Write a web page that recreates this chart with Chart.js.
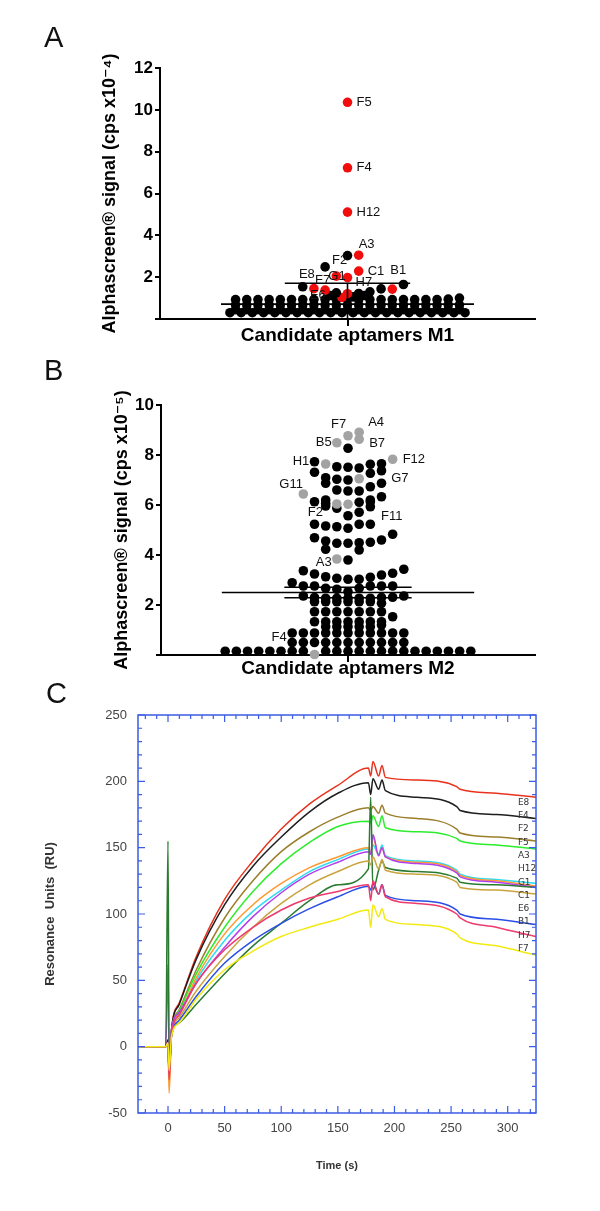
<!DOCTYPE html>
<html>
<head>
<meta charset="utf-8">
<script src="https://cdn.jsdelivr.net/npm/chart.js@4.4.1/dist/chart.umd.min.js"></script>
<style>
  body { margin: 0; background: #fff; width: 600px; height: 1211px; position: relative; overflow: hidden; font-family: "Liberation Sans", Arial, sans-serif; }
  .panel { position: absolute; left: 0; width: 600px; }
  .letter { position: absolute; font-size: 29px; line-height: 29px; color: #111; z-index: 2; }
</style>
</head>
<body>
<div class="letter" style="left:44px;top:23px">A</div>
<div class="letter" style="left:44px;top:356px">B</div>
<div class="letter" style="left:46px;top:679px">C</div>
<div class="panel" style="top:0;height:350px"><canvas id="chartA"></canvas></div>
<div class="panel" style="top:330px;height:350px"><canvas id="chartB"></canvas></div>
<div class="panel" style="top:680px;height:531px"><canvas id="chartC"></canvas></div>
<script>
// ---- panel A : Alphascreen screen, candidate aptamers M1 (rows of the dot swarm, bottom to top, null = empty slot)
const m1Rows = [
  [0.3,0.3,0.3,0.3,0.3,0.3,0.3,0.3,0.3,0.3,0.3,0.3,0.3,0.3,0.3,0.3,0.3,0.3,0.3,0.3,0.3,0.3],
  [0.45,0.45,0.45,0.45,0.45,0.45,0.45,0.45,0.45,0.45,0.45,0.45,0.45,0.45,0.45,0.45,0.45,0.45,0.45,0.45,0.45],
  [0.68,0.68,0.68,0.68,0.68,0.68,0.68,0.68,0.68,0.68,0.68,0.68,0.68,0.68,0.68,0.68,0.68,0.68,0.68,0.68,0.68],
  [0.93,0.93,0.93,0.93,0.93,0.93,0.93,0.93,0.93,0.93,0.93,0.93,0.93,0.93,0.93,0.93,0.93,0.93,0.93,0.95,1.0],
  [1.12, 1.03, 1.06, 1.12],
  [null, 1.25, 1.21, 1.22, 1.3],
  [null, 1.54, 1.45, 1.38, null, null, null, null, 1.44, 1.43, 1.65],
  [2.05, 1.98, null],
  [2.49, null, null, 2.29, null],
  [null, 3.03, 3.05],
  [5.11],
  [7.23],
  [10.36]
];
const m1Hits = [10.36, 7.23, 5.11, 3.05, 2.29, 2.05, 1.98, 1.45, 1.38, 1.43, 1.03, 1.21];
const m1LabelNames = ['F5', 'F4', 'H12', 'A3', 'F2', 'C1', 'B1', 'G1', 'H7', 'E8', 'F7', 'E6'];
const m1LabelValues = [10.36, 7.23, 5.11, 3.05, 2.49, 2.29, 1.43, 2.05, 1.98, 1.45, 1.38, 1.03];
const m1Mean = 0.71, m1Sd = 1.0;

// ---- panel B : candidate aptamers M2
const m2Rows = [
  [0.15,0.15,0.15,0.15,0.15,0.15,0.15,0.15,0.02,0.15,0.15,0.15,0.15,0.15,0.15,0.15,0.15,0.15,0.15,0.15,0.15,0.15,0.15],
  [0.5,0.5,0.5,0.5,0.5,0.5,0.5,0.5,0.5,0.5,0.5],
  [0.88,0.88,0.88,0.88,0.88,0.88,0.88,0.88,0.88,0.88,0.88],
  [null, 1.13, 1.13, 1.13, 1.13, 1.13, 1.2],
  [null, 1.33, 1.33, 1.33, 1.33, 1.33, 1.33, 1.33, 1.53],
  [1.73, 1.73, 1.73, 1.73, 1.73, 1.73, 1.73],
  [2.13, 2.13, 2.13, 2.13, 2.13, 2.13, 2.07],
  [null, 2.36, 2.3, 2.27, 2.27, 2.27, 2.27, 2.27, 2.3, 2.31, 2.36],
  [2.89, 2.76, 2.76, 2.67, 2.63, 2.53, 2.67, 2.76, 2.76, 2.76, null],
  [null, 3.37, 3.24, 3.13, 3.07, 3.03, 3.03, 3.11, 3.2, 3.27, 3.43],
  [3.84, 3.8, null],
  [4.23, null, null, 4.2, null],
  [null, 4.69, 4.56, 4.47, 4.47, 4.49, 4.51, 4.6, 4.83],
  [5.23, 5.16, 5.13, 5.07, 5.23, 5.23, null],
  [5.96, 5.87, 5.57, 5.71, 5.93],
  [6.13, 6.07, 6.04, 6.03, 6.11, 6.13, 6.33],
  [6.2, null, null, null, 6.2],
  [6.44, null, null, null, null, null, null, null, null],
  [null, 6.87, 6.6, 6.56, 6.56, 6.73, 6.87],
  [7.09, 7.03, 7.0, 7.05, null],
  [7.31, null, null, null, null, 7.27, 7.37],
  [null, 7.73, 7.64, 7.53, 7.51, 7.48, 7.63, 7.65, 7.83],
  [8.27],
  [8.49, 8.77, 8.91],
  [null, null, 8.63]
];
const m2Hits = [8.91, 8.77, 8.63, 8.49, 7.83, 7.64, 7.05, 6.44, 6.04, 6.03, 3.84, 0.02];
const m2LabelNames = ['A4', 'F7', 'B7', 'B5', 'F12', 'H1', 'G7', 'G11', 'F2', 'F11', 'A3', 'F4'];
const m2LabelValues = [8.91, 8.77, 8.63, 8.49, 7.83, 7.64, 7.05, 6.44, 6.04, 6.03, 3.84, 0.02];
const m2Mean = 2.5, m2Sem = 0.21;

// ---- panel C : SPR sensorgrams
const spTime = [-26, -2, 0, 1, 3, 10, 25, 50, 75, 100, 125, 150, 177, 179, 181, 186, 189, 192, 220, 255, 258, 290, 325];
const spE8 = [0, 0, 5, -25, 12, 33, 68, 111, 140, 164, 183, 197, 210, 204, 215, 204, 212, 203, 201, 196, 194, 191, 188];
const spF4 = [0, 0, 5, -20, 12, 32, 66, 107, 136, 158, 177, 191, 199, 190, 202, 194, 201, 193, 188, 181, 178, 175, 172];
const spF2 = [0, 0, 3, -22, 10, 28, 58, 97, 125, 147, 162, 173, 180, 178, 181, 176, 182, 176, 172, 164, 161, 158, 155];
const spF5 = [0, 0, 3, -20, 10, 27, 55, 90, 117, 138, 154, 166, 170, 168, 174, 166, 174, 165, 162, 157, 155, 152, 149];
const spA3 = [0, 0, 2, -20, 9, 25, 50, 80, 102, 118, 132, 141, 149, 146, 152, 145, 152, 144, 140, 133, 130, 126, 123];
const spH12 = [0, 0, 2, -35, 8, 25, 52, 85, 107, 123, 135, 143, 150, 145, 158, 144, 150, 143, 139, 132, 129, 125, 121];
const spG1 = [0, 0, 62, -15, 12, 26, 48, 75, 98, 116, 130, 139, 147, 145, 160, 144, 150, 143, 138, 131, 128, 124, 120];
const spC1 = [0, 0, 155, -18, 8, 18, 32, 55, 76, 93, 110, 122, 134, 188, 118, 133, 140, 135, 132, 127, 124, 122, 120];
const spE6 = [0, 0, 2, -20, 8, 22, 42, 68, 90, 108, 122, 132, 140, 137, 143, 134, 141, 133, 130, 124, 120, 118, 115];
const spB1 = [0, 0, 3, -20, 7, 20, 38, 63, 80, 93, 104, 113, 121, 118, 123, 115, 122, 114, 110, 103, 100, 96, 92];
const spH7 = [0, 0, 3, -25, 8, 24, 48, 73, 90, 103, 112, 117, 122, 110, 125, 115, 122, 113, 108, 100, 97, 90, 83];
const spF7 = [0, 0, 3, -18, 7, 18, 36, 58, 72, 83, 90, 96, 103, 90, 107, 98, 104, 96, 92, 85, 82, 76, 69];
const spNames = ['E8', 'F4', 'F2', 'F5', 'A3', 'H12', 'G1', 'C1', 'E6', 'B1', 'H7', 'F7'];
const spSeries = [spE8, spF4, spF2, spF5, spA3, spH12, spG1, spC1, spE6, spB1, spH7, spF7];
const spColors = ['#e8321e', '#1e1e1e', '#9b7f2c', '#2ced2c', '#30dcef', '#ff9830', '#b040ee', '#2a7a30', '#c9a43e', '#2a4ee6', '#ee3a6c', '#f2ea12'];
const spXTicks = [0, 50, 100, 150, 200, 250, 300];
const spYTicks = [-50, 0, 50, 100, 150, 200, 250];

Chart.defaults.font.family = '"Liberation Sans", Arial, "DejaVu Sans", sans-serif';
Chart.defaults.color = '#000';

function swarmPoints(rows) {
  const pts = [];
  rows.forEach(function (row) {
    const n = row.length;
    row.forEach(function (v, i) {
      if (v === null) return;
      pts.push({ x: i - (n - 1) / 2, y: v });
    });
  });
  return pts;
}

function segment(x1, y1, x2, y2) {
  return {
    data: [{ x: x1, y: y1 }, { x: x2, y: y2 }],
    showLine: true, borderColor: '#000', borderWidth: 1.6, pointRadius: 0, order: 0
  };
}

// names next to the highlighted points
const pointLabels = {
  id: 'pointLabels',
  afterDatasetsDraw(chart, args, opts) {
    if (!opts.names) return;
    const ctx = chart.ctx;
    const meta = chart.getDatasetMeta(0);
    const data = chart.data.datasets[0].data;
    ctx.save();
    ctx.font = '13px "Liberation Sans", Arial, sans-serif';
    ctx.fillStyle = '#111';
    ctx.textBaseline = 'middle';
    opts.names.forEach(function (name, i) {
      const idx = data.findIndex(p => p.y === opts.values[i]);
      if (idx < 0) return;
      const el = meta.data[idx];
      const off = opts.offsets[name] || [8, 0];
      ctx.fillText(name, el.x + off[0], el.y + off[1]);
    });
    ctx.restore();
  }
};

function swarmChart(id, rows, hits, hitColor, names, values, offsets, lines, yTitle, xTitle, yMax, padLeft, padTop, padBottom, yWidth, xHeight) {
  const pts = swarmPoints(rows);
  return new Chart(document.getElementById(id), {
    type: 'scatter',
    data: {
      datasets: [{
        data: pts,
        backgroundColor: pts.map(p => hits.includes(p.y) ? hitColor : '#000'),
        borderWidth: 0,
        pointRadius: 4.8,
        clip: false,
        order: 1
      }].concat(lines)
    },
    options: {
      responsive: true,
      maintainAspectRatio: false,
      animation: false,
      layout: { padding: { left: padLeft, top: padTop, right: 65, bottom: padBottom } },
      plugins: {
        legend: { display: false },
        tooltip: { enabled: false },
        pointLabels: { names: names, values: values, offsets: offsets }
      },
      scales: {
        x: {
          type: 'linear', min: -16.75, max: 16.75,
          afterBuildTicks: s => { s.ticks = [{ value: 0 }]; },
          afterFit: s => { s.height = xHeight; },
          ticks: { callback: () => '' },
          grid: { drawOnChartArea: false, tickLength: 7, color: '#000', lineWidth: 2 },
          border: { color: '#000', width: 2 },
          title: { display: true, text: xTitle, font: { size: 19, weight: 'bold' }, color: '#000', padding: 0 }
        },
        y: {
          min: 0, max: yMax,
          afterFit: s => { s.width = yWidth; },
          ticks: { stepSize: 2, callback: v => v === 0 ? '' : v, font: { size: 17, weight: 'bold' }, color: '#000', padding: 2 },
          grid: { drawOnChartArea: false, tickLength: 5, color: '#000', lineWidth: 2 },
          border: { color: '#000', width: 2 },
          title: { display: true, text: yTitle, font: { size: 18, weight: 'bold' }, color: '#000', padding: 0 }
        }
      }
    },
    plugins: [pointLabels]
  });
}

swarmChart('chartA', m1Rows, m1Hits, '#f20d0d', m1LabelNames, m1LabelValues,
  { F5: [9, 0], F4: [9, 0], H12: [9, 0], A3: [0, -11], F2: [7, -6], C1: [9, 0], B1: [-2, -19],
    G1: [-8, 0], H7: [8, 5], E8: [-15, -14], F7: [-10, -10], E6: [-32, -2] },
  [segment(-11.3, m1Mean, 11.3, m1Mean),
   segment(-5.6, m1Mean + m1Sd, 5.6, m1Mean + m1Sd),
   segment(0, m1Mean - m1Sd, 0, m1Mean + m1Sd)],
  'Alphascreen® signal (cps x10⁻⁴)', 'Candidate aptamers M1', 12, 99, 68, 3, 61, 28);

swarmChart('chartB', m2Rows, m2Hits, '#a3a3a3', m2LabelNames, m2LabelValues,
  { A4: [9, -10], F7: [-17, -11], B7: [10, 4], B5: [-21, 0], F12: [10, 0], H1: [-33, -3],
    G7: [32, 0], G11: [-24, -10], F2: [-29, 8], F11: [33, 12], A3: [-21, 3], F4: [-43, -17] },
  [segment(-11.3, m2Mean, 11.3, m2Mean),
   segment(-5.7, m2Mean + m2Sem, 5.7, m2Mean + m2Sem),
   segment(-5.7, m2Mean - m2Sem, 5.7, m2Mean - m2Sem),
   segment(0, m2Mean - m2Sem, 0, m2Mean + m2Sem)],
  'Alphascreen® signal (cps x10⁻⁵)', 'Candidate aptamers M2', 10, 111, 75, 0, 50, 25);

// blue frame with inward ticks, and the column of curve names
const frameColor = '#3a5ce6';
const spFrame = {
  id: 'spFrame',
  afterDraw(chart) {
    const ctx = chart.ctx, a = chart.chartArea, x = chart.scales.x, y = chart.scales.y;
    ctx.save();
    ctx.strokeStyle = frameColor;
    ctx.lineWidth = 1.5;
    ctx.strokeRect(a.left, a.top, a.right - a.left, a.bottom - a.top);
    ctx.lineWidth = 1.2;
    ctx.beginPath();
    for (let v = Math.ceil(x.min / 10) * 10; v <= x.max; v += 10) {
      const px = x.getPixelForValue(v), len = v % 50 === 0 ? 7 : 4;
      ctx.moveTo(px, a.top); ctx.lineTo(px, a.top + len);
      ctx.moveTo(px, a.bottom); ctx.lineTo(px, a.bottom - len);
    }
    for (let v = Math.ceil(y.min / 10) * 10; v <= y.max; v += 10) {
      const py = y.getPixelForValue(v), len = v % 50 === 0 ? 7 : 4;
      ctx.moveTo(a.left, py); ctx.lineTo(a.left + len, py);
      ctx.moveTo(a.right, py); ctx.lineTo(a.right - len, py);
    }
    ctx.stroke();
    ctx.font = '9px "DejaVu Sans", sans-serif';
    ctx.fillStyle = '#333';
    ctx.textBaseline = 'middle';
    spNames.forEach(function (name, i) {
      ctx.fillText(name, x.getPixelForValue(309), y.getPixelForValue(184 - i * 10));
    });
    ctx.restore();
  }
};

new Chart(document.getElementById('chartC'), {
  type: 'scatter',
  data: {
    datasets: spSeries.map(function (vals, k) {
      return {
        label: spNames[k],
        data: spTime.map((t, i) => ({ x: t, y: vals[i] })),
        showLine: true,
        borderColor: spColors[k],
        borderWidth: 1.5,
        pointRadius: 0,
        cubicInterpolationMode: 'monotone'
      };
    }).reverse()
  },
  options: {
    responsive: true,
    maintainAspectRatio: false,
    animation: false,
    layout: { padding: { left: 43, top: 35, right: 64, bottom: 38 } },
    plugins: { legend: { display: false }, tooltip: { enabled: false } },
    scales: {
      x: {
        type: 'linear', min: -26.5, max: 325,
        afterBuildTicks: s => { s.ticks = spXTicks.map(v => ({ value: v })); },
        afterFit: s => { s.height = 60; },
        ticks: { font: { size: 13 }, color: '#444', padding: 8, autoSkip: false, maxRotation: 0 },
        grid: { display: false, drawTicks: false },
        border: { display: false },
        title: { display: true, text: 'Time (s)', font: { size: 11, weight: 'bold' }, color: '#333', padding: 0 }
      },
      y: {
        min: -50, max: 250,
        afterBuildTicks: s => { s.ticks = spYTicks.map(v => ({ value: v })); },
        afterFit: s => { s.width = 95; },
        ticks: { font: { size: 13 }, color: '#444', padding: 11 },
        grid: { display: false, drawTicks: false },
        border: { display: false },
        title: { display: true, text: 'Resonance  Units  (RU)', font: { size: 13, weight: 'bold' }, color: '#333', padding: 0 }
      }
    }
  },
  plugins: [spFrame]
});
</script>
</body>
</html>
